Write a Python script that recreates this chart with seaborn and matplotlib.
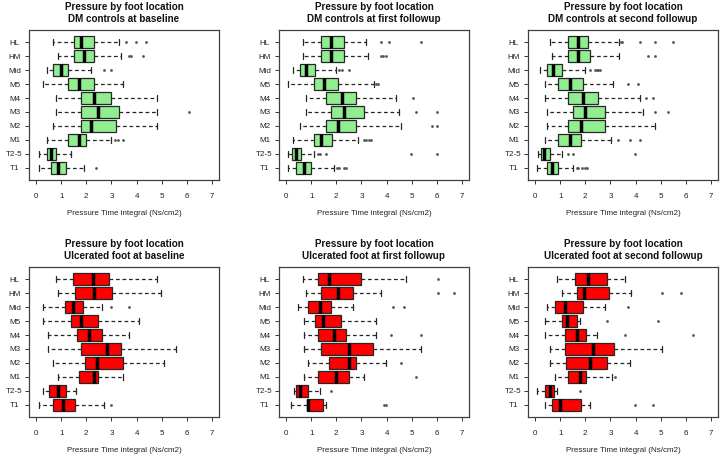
import numpy as np
import pandas as pd
import matplotlib
matplotlib.use("Agg")
import matplotlib.pyplot as plt
import seaborn as sns

# ---------------- data ----------------
locations = ["HL", "HM", "Mid", "M5", "M4", "M3", "M2", "M1", "T2-5", "T1"]

# [whisker low, Q1, median, Q3, whisker high] per location
dm_baseline = [
    [0.68, 1.51, 1.80, 2.31, 3.31],
    [0.89, 1.51, 1.92, 2.31, 3.40],
    [0.43, 0.69, 1.00, 1.29, 2.17],
    [0.29, 1.29, 1.71, 2.31, 3.48],
    [0.80, 1.80, 2.31, 3.00, 4.80],
    [0.80, 1.80, 2.48, 3.29, 4.80],
    [0.69, 1.80, 2.19, 3.20, 4.80],
    [0.43, 1.29, 1.71, 2.00, 3.00],
    [0.11, 0.43, 0.60, 0.81, 1.40],
    [0.11, 0.59, 0.89, 1.20, 1.91],
]
dm_baseline_out = [[3.57, 3.97, 4.37], [3.68, 3.76, 4.27], [2.69, 3.00], [], [],
                   [6.09], [], [3.13, 3.27, 3.47], [], [2.39]]

dm_first = [
    [0.68, 1.38, 1.77, 2.31, 3.19],
    [0.68, 1.38, 1.77, 2.31, 3.28],
    [0.28, 0.56, 0.78, 1.17, 1.97],
    [0.08, 1.13, 1.53, 2.06, 3.50],
    [0.78, 1.58, 2.21, 2.80, 4.38],
    [0.78, 1.77, 2.29, 3.10, 4.49],
    [0.56, 1.58, 2.08, 2.80, 4.58],
    [0.28, 1.10, 1.38, 1.84, 2.88],
    [0.08, 0.24, 0.39, 0.58, 1.10],
    [0.08, 0.39, 0.71, 0.98, 1.90],
]
dm_first_out = [[3.79, 4.10, 5.38], [3.79, 3.86, 3.97], [2.09, 2.23, 2.49], [3.57, 3.66],
                [5.05], [5.17, 5.99], [5.79, 5.99], [3.10, 3.19, 3.30, 3.40],
                [1.29, 1.35, 1.60, 4.99, 5.99], [2.02, 2.09, 2.29, 2.37]]

dm_second = [
    [0.60, 1.30, 1.70, 2.12, 3.33],
    [0.68, 1.30, 1.70, 2.20, 3.33],
    [0.20, 0.48, 0.70, 1.07, 1.98],
    [0.40, 0.90, 1.38, 1.91, 3.11],
    [0.40, 1.30, 1.90, 2.50, 4.19],
    [0.47, 1.53, 1.98, 2.80, 4.31],
    [0.47, 1.30, 1.82, 2.80, 4.79],
    [0.40, 0.90, 1.38, 1.81, 3.01],
    [0.11, 0.24, 0.37, 0.60, 1.07],
    [0.08, 0.47, 0.68, 0.90, 1.51],
]
dm_second_out = [[3.43, 3.48, 4.19, 4.79, 5.50], [4.48, 4.79], [2.18, 2.38, 2.45, 2.52, 2.58],
                 [3.71, 4.10], [4.40, 4.70], [4.79, 5.30], [], [3.32, 3.79, 4.19],
                 [1.31, 1.51, 3.99], [1.65, 1.69, 1.87, 1.97, 2.06]]

ulc_baseline = [
    [0.80, 1.49, 2.27, 2.91, 4.80],
    [0.89, 1.56, 2.32, 3.01, 4.97],
    [0.29, 1.15, 1.48, 1.85, 2.63],
    [0.29, 1.41, 1.79, 2.48, 4.08],
    [0.49, 1.64, 2.09, 2.64, 3.68],
    [0.49, 1.80, 2.84, 3.39, 5.57],
    [0.68, 1.95, 2.44, 3.48, 5.09],
    [0.89, 1.71, 2.32, 2.48, 3.48],
    [0.29, 0.53, 0.89, 1.20, 1.59],
    [0.11, 0.69, 1.09, 1.56, 2.69],
]
ulc_baseline_out = [[], [], [3.00, 3.68], [], [], [], [], [], [], [3.00]]

ulc_first = [
    [0.69, 1.29, 1.69, 2.99, 4.77],
    [0.79, 1.39, 2.08, 2.68, 3.79],
    [0.49, 0.88, 1.37, 1.77, 2.68],
    [0.71, 1.17, 1.48, 2.20, 3.57],
    [0.71, 1.29, 1.89, 2.39, 3.57],
    [0.71, 1.39, 2.49, 3.48, 5.37],
    [0.88, 1.69, 2.49, 2.80, 3.96],
    [0.71, 1.29, 1.99, 2.49, 3.09],
    [0.32, 0.40, 0.57, 0.88, 1.37],
    [0.19, 0.85, 0.88, 1.49, 1.59],
]
ulc_first_out = [[6.05], [6.05, 6.67], [4.25, 4.68], [], [4.17, 5.37], [], [4.56],
                 [5.16], [1.79], [3.88, 3.96]]

ulc_second = [
    [0.89, 1.59, 2.11, 2.88, 3.59],
    [1.07, 1.67, 1.96, 2.95, 3.80],
    [0.47, 0.80, 1.20, 1.90, 2.80],
    [0.40, 1.07, 1.28, 1.68, 1.78],
    [0.40, 1.20, 1.68, 2.04, 2.48],
    [0.60, 1.20, 2.30, 3.15, 5.07],
    [0.60, 1.23, 2.19, 2.86, 3.79],
    [0.80, 1.30, 1.80, 2.04, 3.08],
    [0.09, 0.40, 0.60, 0.75, 0.89],
    [0.40, 0.69, 0.99, 1.84, 2.20],
]
ulc_second_out = [[], [5.06, 5.79], [3.70], [2.87, 4.90], [3.56, 6.27], [], [],
                  [3.18], [1.80], [3.99, 4.69]]

subtitles = ["DM controls at baseline", "DM controls at first followup",
             "DM controls at second followup", "Ulcerated foot at baseline",
             "Ulcerated foot at first followup", "Ulcerated foot at second followup"]
x_ticks = [0, 1, 2, 3, 4, 5, 6, 7]
x_label = "Pressure Time integral (Ns/cm2)"
main_title = "Pressure by foot location"

# ---------------- figure ----------------
sns.set_style("ticks")
plt.rcParams["font.family"] = ["Liberation Sans", "DejaVu Sans"]

W, H = 722, 458
fig = plt.figure(figsize=(W / 100, H / 100), dpi=100)

panel_stats = [dm_baseline, dm_first, dm_second, ulc_baseline, ulc_first, ulc_second]
panel_out = [dm_baseline_out, dm_first_out, dm_second_out,
             ulc_baseline_out, ulc_first_out, ulc_second_out]
panel_color = ["#90EE90"] * 3 + ["#FF0000"] * 3
col_left = [29, 279, 528]
row_top = [30, 267]
ax_w, ax_h = 190, 150

for i in range(6):
    r, c = divmod(i, 3)
    ax = fig.add_axes([col_left[c] / W, 1 - (row_top[r] + ax_h) / H, ax_w / W, ax_h / H])

    rows = []
    for loc, st in zip(locations, panel_stats[i]):
        for v in st:
            rows.append({"loc": loc, "value": v})
    df = pd.DataFrame(rows)

    sns.boxplot(data=df, x="value", y="loc", order=locations, orient="y",
                whis=(0, 100), width=0.8, color=panel_color[i], saturation=1,
                linecolor="#262626", linewidth=0.9, showfliers=False, ax=ax,
                medianprops={"color": "black", "linewidth": 2.5, "solid_capstyle": "butt"},
                whiskerprops={"linestyle": (0, (3.0, 2.2)), "linewidth": 0.9, "color": "#262626"},
                capprops={"linewidth": 0.9, "color": "#262626"})

    orows = []
    for loc, outs in zip(locations, panel_out[i]):
        for v in outs:
            orows.append({"loc": loc, "value": v})
    if orows:
        odf = pd.DataFrame(orows)
        sns.stripplot(data=odf, x="value", y="loc", order=locations, orient="y",
                      jitter=False, size=2.0, color="#555555", marker="o",
                      linewidth=0, ax=ax)

    ax.set_xlim(-0.28, 7.28)
    ax.set_ylim(9.86, -0.86)
    ax.set_xticks(x_ticks)
    ax.set_xticklabels([str(t) for t in x_ticks])
    ax.set_title(main_title + "\n" + subtitles[i], fontsize=7.1, fontweight="bold",
                 pad=6, linespacing=1.2, color="#111111")
    ax.set_xlabel(x_label, fontsize=5.8, labelpad=7.5, color="#222222")
    ax.set_ylabel("")
    ax.tick_params(axis="both", length=3.2, width=0.7, color="#333333",
                   labelsize=5.8, labelcolor="#222222")
    ax.tick_params(axis="x", pad=6.0)
    ax.tick_params(axis="y", pad=7.2)
    for lab in ax.get_yticklabels():
        lab.set_horizontalalignment("center")
    for sp in ax.spines.values():
        sp.set_visible(True)
        sp.set_color("#404040")
        sp.set_linewidth(0.9)

fig.savefig("out.png", dpi=100)
